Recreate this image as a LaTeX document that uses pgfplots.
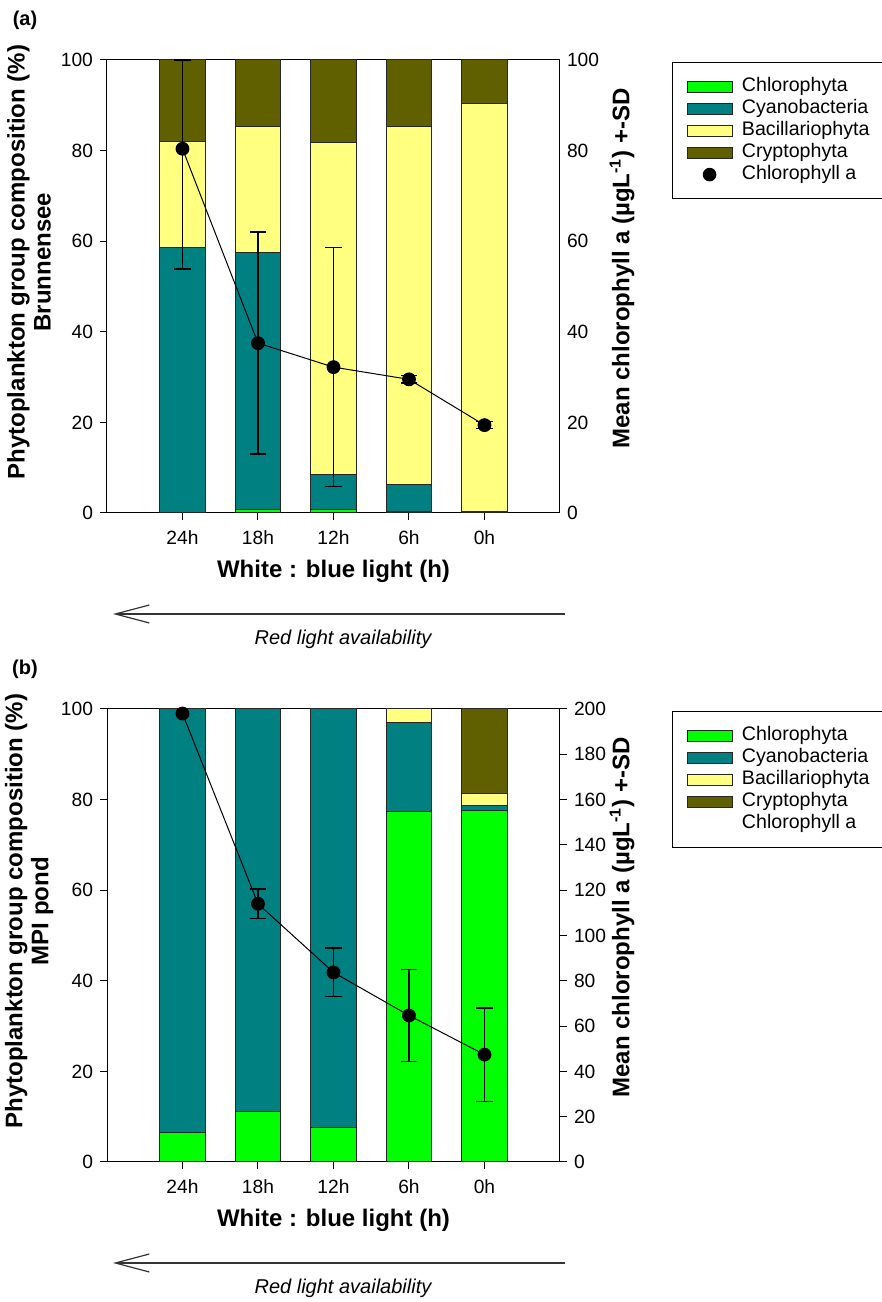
\documentclass[border=0pt]{standalone}
\usepackage{fontspec}
\setmainfont{Liberation Sans}
\usepackage{pgfplots}
\pgfplotsset{compat=1.18}
\usepackage{pgfplotstable}
\usetikzlibrary{arrows.meta}

\definecolor{chloro}{RGB}{0,255,0}
\definecolor{cyano}{RGB}{0,128,128}
\definecolor{bacil}{RGB}{255,255,128}
\definecolor{crypto}{RGB}{96,96,0}

% Panel (a): Brunnensee
\pgfplotstableread{
x chl cya bac cry
1 0.1 58.5 23.3 18.1
2 0.7 56.8 27.9 14.6
3 0.8 7.8 73.2 18.2
4 0.4 5.9 79.1 14.6
5 0.2 0.2 89.9 9.7
}\barsA
\pgfplotstableread{
x y ep em
1 80.4 19.6 26.5
2 37.5 24.5 24.5
3 32.2 26.4 26.3
4 29.5 0.8 0.8
5 19.4 0.8 0.8
}\chlA

% Panel (b): MPI pond
\pgfplotstableread{
x chl cya bac cry
1 6.6 93.4 0 0
2 11.2 88.8 0 0
3 7.6 92.4 0 0
4 77.3 19.7 3.0 0
5 77.6 1.2 2.6 18.6
}\barsB
\pgfplotstableread{
x y
1 198.0
2 114.0
3 83.7
4 64.7
5 47.4
}\chlB
\pgfplotstableread{
x y ep em
2 114.0 6.5 6.5
3 83.7 10.7 10.7
4 64.7 20.3 20.3
5 47.4 20.7 20.7
}\chlBerr

\pgfplotsset{
  common/.style={
    scale only axis, width=226.5pt, height=226.5pt,
    xmin=0, xmax=6,
    tick align=outside, major tick length=3.5pt,
    tick style={black, line width=0.5pt},
    axis line style={line width=0.5pt},
    ticklabel style={font=\fontsize{9.6}{11}\selectfont},
    /pgf/number format/assume math mode=true,
  },
  baraxis/.style={
    common, ymin=0, ymax=100,
    ybar stacked, bar width=0.6,
    xtick={1,2,3,4,5}, xticklabels={24h,18h,12h,6h,0h},
    ytick={0,20,...,100},
    xtick pos=bottom, ytick pos=left,
    xticklabel style={yshift=-2pt},
    xlabel={White : blue light (h)},
    xlabel style={at={(axis description cs:0.5,-0.128)}, anchor=center,
      font=\bfseries\fontsize{12}{14}\selectfont},
    ylabel style={at={(axis description cs:-0.172,0.554)}, anchor=center,
      align=center, font=\bfseries\fontsize{12}{13}\selectfont},
    legend style={at={(1,1)}, anchor=north west, xshift=56pt, yshift=-1pt,
      draw=black, line width=0.6pt, fill=white,
      inner xsep=7pt, inner ysep=6.5pt, row sep=0pt,
      font=\fontsize{9.8}{11}\selectfont,
      nodes={inner ysep=0pt, text height=8.2pt, text depth=2.8pt},
      cells={anchor=west},
      /tikz/every odd column/.append style={column sep=2.7pt}},
    legend cell align=left,
  },
  lineaxis/.style={
    common, axis y line*=right, axis x line=none,
    clip=false,
    ylabel={Mean chlorophyll a (µgL\textsuperscript{-1}) +-SD},
    ylabel style={at={(axis description cs:1.137,0.54)}, anchor=center,
      font=\bfseries\fontsize{12}{13}\selectfont},
  },
  barplot/.style={fill=#1, draw=black!85, line width=0.5pt,
    legend image code/.code={\draw[##1] (0pt,-2.75pt) rectangle (22.5pt,2.75pt);}},
  dotlegend/.style={
    legend image code/.code={\fill[black] (11.25pt,0pt) circle (3.1pt);}},
  chlline/.style={black, line width=0.5pt, mark=*, mark size=3.2pt,
    mark options={fill=black, solid}},
  chlerr/.style={black, only marks, mark=none,
    error bars/.cd, y dir=both, y explicit,
    error bar style={line width=0.75pt, black},
    error mark options={rotate=90, mark size=4.2pt, line width=0.75pt, black}},
}

\begin{document}
\begin{tikzpicture}
\useasboundingbox (0,0) rectangle (441pt,651pt);
\clip (0,0) rectangle (441pt,651pt);

% ---------------- Panel (a) ----------------
\begin{axis}[baraxis, at={(53.5pt,394.5pt)},
  ylabel={Phytoplankton group composition (\%)\\Brunnensee}]
\addplot[barplot=chloro] table[x=x,y=chl]{\barsA};
\addplot[barplot=cyano] table[x=x,y=cya]{\barsA};
\addplot[barplot=bacil] table[x=x,y=bac]{\barsA};
\addplot[barplot=crypto] table[x=x,y=cry]{\barsA};
\addlegendimage{dotlegend}
\legend{Chlorophyta,Cyanobacteria,Bacillariophyta,Cryptophyta,Chlorophyll a}
\end{axis}
\begin{axis}[lineaxis, at={(53.5pt,394.5pt)}, ymin=0, ymax=100,
  ytick={0,20,...,100}, major tick length=0pt]
\addplot[chlerr] table[x=x,y=y,y error plus=ep,y error minus=em]{\chlA};
\addplot[chlline] table[x=x,y=y]{\chlA};
\end{axis}

\draw[line width=0.6pt, black!80, -{Straight Barb[length=17pt,width=9pt,line width=0.6pt]}]
  (282.5pt,344pt) -- (56.5pt,344pt);
\node[font=\itshape\fontsize{10}{12}\selectfont] at (171.5pt,331.5pt) {Red light availability};
\node[font=\bfseries\fontsize{10}{12}\selectfont] at (12.5pt,641pt) {(a)};

% ---------------- Panel (b) ----------------
\begin{axis}[baraxis, at={(53.5pt,70pt)},
  ylabel={Phytoplankton group composition (\%)\\MPI pond}]
\addplot[barplot=chloro] table[x=x,y=chl]{\barsB};
\addplot[barplot=cyano] table[x=x,y=cya]{\barsB};
\addplot[barplot=bacil] table[x=x,y=bac]{\barsB};
\addplot[barplot=crypto] table[x=x,y=cry]{\barsB};
\addlegendimage{empty legend}
\legend{Chlorophyta,Cyanobacteria,Bacillariophyta,Cryptophyta,Chlorophyll a}
\end{axis}
\begin{axis}[lineaxis, at={(53.5pt,70pt)}, ymin=0, ymax=200,
  ytick={0,20,...,200}]
\addplot[chlerr] table[x=x,y=y,y error plus=ep,y error minus=em]{\chlBerr};
\addplot[chlline] table[x=x,y=y]{\chlB};
\end{axis}

\draw[line width=0.6pt, black!80, -{Straight Barb[length=17pt,width=9pt,line width=0.6pt]}]
  (282.5pt,19.5pt) -- (56.5pt,19.5pt);
\node[font=\itshape\fontsize{10}{12}\selectfont] at (171.5pt,7pt) {Red light availability};
\node[font=\bfseries\fontsize{10}{12}\selectfont] at (12.5pt,316.5pt) {(b)};
\end{tikzpicture}
\end{document}
